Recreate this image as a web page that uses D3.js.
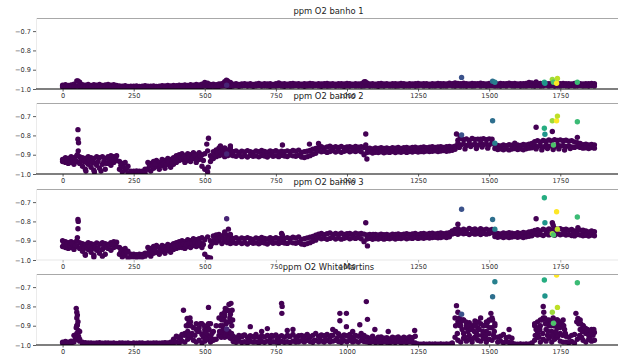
<!DOCTYPE html>
<html>
<head>
<meta charset="utf-8">
<script src="https://cdn.jsdelivr.net/npm/d3@7"></script>
<style>
  body { margin: 0; background: #fff; }
  svg { display: block; }
  text { font-family: "DejaVu Sans", sans-serif; }
</style>
</head>
<body>
<svg id="chart" width="618" height="354"></svg>
<script>
// Sample spacing of the band arrays (index units)
const STEP = 10;

const titles = ['ppm O2 banho 1', 'ppm O2 banho 2', 'ppm O2 banho 3', 'ppm O2 WhiteMartins'];
const xTicks = [0, 250, 500, 750, 1000, 1250, 1500, 1750];
const yTicks = [-1.0, -0.9, -0.8, -0.7];

// Coloured points: index and colour value (shared by all four panels)
const hlX = [577, 1403, 1512, 1520, 1694, 1696, 1722, 1726, 1737, 1740, 1810];
const hlC = [0.1, 0.25, 0.36, 0.43, 0.62, 0.52, 0.85, 0.72, 1.0, 0.9, 0.68];

// ---- banho 1 ----
const b1Hi = [-0.98,-0.978,-0.982,-0.979,-0.975,-0.958,-0.965,
  -0.978,-0.98,-0.976,-0.981,-0.978,-0.98,-0.977,-0.982,-0.979,-0.976,-0.98,-0.978,-0.981,
  -0.984,-0.986,-0.983,-0.987,-0.985,-0.986,-0.984,-0.987,-0.985,-0.983,-0.986,-0.985,-0.984,-0.987,-0.985,-0.983,-0.984,-0.982,-0.984,-0.981,-0.983,-0.98,-0.982,-0.979,-0.981,-0.978,
  -0.98,-0.977,-0.979,-0.975,-0.966,-0.97,-0.977,-0.975,-0.978,-0.974,-0.972,-0.962,-0.958,-0.966,
  -0.975,-0.973,-0.976,-0.974,-0.972,-0.975,-0.973,-0.976,-0.974,-0.971,-0.975,-0.973,-0.974,-0.972,-0.976,-0.973,-0.968,-0.974,-0.972,-0.975,-0.973,-0.971,-0.974,-0.972,-0.975,-0.973,-0.974,-0.971,-0.973,-0.975,-0.972,-0.974,-0.973,-0.971,-0.974,-0.972,-0.975,-0.973,-0.972,-0.974,-0.971,-0.973,-0.975,-0.972,-0.974,-0.972,
  -0.963,-0.968,
  -0.974,-0.972,-0.975,-0.973,-0.971,-0.974,-0.972,-0.975,-0.973,-0.972,-0.974,-0.971,-0.973,-0.975,-0.972,-0.974,-0.973,-0.971,-0.974,-0.972,
  -0.973,-0.975,-0.972,-0.974,-0.971,-0.973,-0.972,-0.974,-0.97,-0.972,-0.968,-0.971,-0.973,-0.97,-0.972,-0.974,-0.971,-0.973,-0.972,-0.97,
  -0.972,-0.974,-0.971,-0.973,-0.972,-0.974,-0.971,-0.973,-0.972,-0.97,-0.973,-0.971,-0.974,-0.972,-0.973,-0.971,-0.966,-0.968,-0.972,-0.973,
  -0.971,-0.974,-0.972,-0.973,-0.971,-0.972,-0.974,-0.972,-0.971,-0.973,-0.972,-0.974,-0.971,-0.973,-0.972,-0.974,-0.972,-0.973,-0.971,-0.973];
const b1Lo = [-0.99,-0.992,-0.988,-0.991,-0.989,-0.986,-0.988,-0.991,-0.99,-0.992,-0.989,-0.991,-0.99,-0.988,-0.992,-0.99,-0.991,-0.989,-0.99,-0.992,
  -0.994,-0.995,-0.993,-0.996,-0.994,-0.995,-0.993,-0.996,-0.995,-0.994,-0.996,-0.995,-0.993,-0.995,-0.994,-0.993,-0.994,-0.992,-0.993,-0.991,-0.992,-0.99,-0.991,-0.989,-0.99,-0.988,
  -0.989,-0.987,-0.99,-0.988,-0.985,-0.987,-0.988,-0.986,-0.989,-0.987,-0.985,-0.984,-0.986,-0.988,
  -0.985,-0.983,-0.986,-0.984,-0.982,-0.985,-0.983,-0.986,-0.984,-0.982,
  -0.985,-0.983,-0.984,-0.986,-0.983,-0.985,-0.982,-0.984,-0.986,-0.983,
  -0.985,-0.984,-0.982,-0.985,-0.983,-0.986,-0.984,-0.983,-0.985,-0.982,
  -0.984,-0.986,-0.983,-0.985,-0.984,-0.982,-0.985,-0.983,-0.984,-0.986,
  -0.983,-0.985,-0.982,-0.984,-0.983,-0.985,-0.984,-0.982,-0.985,-0.983,
  -0.984,-0.986,-0.983,-0.985,-0.982,-0.984,-0.983,-0.985,-0.984,-0.982,
  -0.985,-0.983,-0.984,-0.982,-0.985,-0.983,-0.981,-0.984,-0.982,-0.985,
  -0.983,-0.984,-0.982,-0.985,-0.983,-0.984,-0.981,-0.983,-0.985,-0.982,
  -0.984,-0.983,-0.985,-0.982,-0.984,-0.983,-0.981,-0.984,-0.982,-0.985,
  -0.983,-0.982,-0.984,-0.983,-0.985,-0.982,-0.984,-0.981,-0.983,-0.984,
  -0.982,-0.985,-0.983,-0.984,-0.982,-0.983,-0.985,-0.982,-0.984,-0.983,
  -0.981,-0.984,-0.982,-0.985,-0.983,-0.984,-0.982,-0.983,-0.985,-0.982,
  -0.984,-0.983,-0.982,-0.984,-0.983,-0.985,-0.982,-0.984];
const b1Extra = [[54,-0.958],[576,-0.955],[1064,-0.962],[1665,-0.963]];
const b1Hl = [-0.98,-0.94,-0.96,-0.965,-0.965,-0.97,-0.95,-0.965,-0.97,-0.945,-0.965];

// ---- banho 2 ----
const b2Hi = [-0.925,-0.915,-0.92,-0.91,-0.915,-0.905,-0.91,-0.915,-0.92,-0.91,-0.915,-0.92,-0.91,-0.915,-0.91,-0.92,-0.91,-0.905,-0.91,-0.905,
  -0.935,-0.945,-0.94,-0.96,-0.985,-0.985,-0.984,-0.986,-0.985,-0.975,-0.94,-0.945,-0.935,-0.93,-0.94,-0.925,-0.93,-0.92,-0.925,-0.915,
  -0.905,-0.9,-0.895,-0.905,-0.895,-0.9,-0.89,-0.9,-0.89,-0.9,-0.895,-0.88,-0.905,-0.885,-0.875,-0.865,-0.87,-0.865,-0.875,-0.865,
  -0.885,-0.88,-0.888,-0.882,-0.886,-0.879,-0.884,-0.888,-0.881,-0.885,-0.878,-0.883,-0.887,-0.88,-0.884,-0.879,-0.886,-0.882,-0.885,-0.88,-0.884,-0.878,-0.882,-0.876,
  -0.888,-0.885,-0.882,-0.878,-0.872,-0.868,
  -0.862,-0.858,-0.865,-0.86,-0.856,-0.863,-0.859,-0.862,-0.857,-0.864,-0.86,-0.858,-0.863,-0.857,-0.861,-0.859,-0.862,
  -0.868,-0.866,-0.87,-0.865,-0.868,-0.864,-0.867,-0.865,-0.869,-0.864,-0.866,-0.863,-0.867,-0.864,-0.862,-0.866,-0.863,-0.861,-0.865,-0.862,-0.86,-0.864,-0.861,-0.859,-0.863,-0.86,-0.858,-0.862,-0.859,-0.857,-0.86,-0.856,
  -0.825,-0.815,-0.822,-0.818,-0.826,-0.816,-0.821,-0.819,-0.824,-0.817,-0.822,-0.818,-0.82,
  -0.848,-0.852,-0.855,-0.85,-0.853,-0.848,-0.851,-0.854,-0.849,-0.852,-0.847,-0.85,-0.845,-0.842,
  -0.832,-0.828,-0.834,-0.826,-0.83,-0.824,-0.829,-0.822,-0.826,-0.823,-0.828,-0.825,-0.83,-0.827,-0.834,
  -0.838,-0.842,-0.848,-0.845,-0.85,-0.847,-0.849];
const b2Lo = [-0.935,-0.94,-0.945,-0.94,-0.95,-0.935,-0.945,-0.96,-0.975,-0.95,-0.965,-0.98,-0.955,-0.97,-0.95,-0.975,-0.945,-0.955,-0.94,-0.93,
  -0.975,-0.99,-0.98,-0.995,-0.998,-0.998,-0.997,-0.998,-0.998,-0.995,-0.975,-0.985,-0.97,-0.96,-0.975,-0.955,-0.97,-0.95,-0.965,-0.95,
  -0.94,-0.93,-0.925,-0.94,-0.93,-0.935,-0.92,-0.94,-0.925,-0.96,-0.975,-0.99,-0.935,-0.92,-0.91,-0.905,-0.9,-0.91,-0.905,-0.9,
  -0.905,-0.908,-0.902,-0.91,-0.905,-0.912,-0.903,-0.908,-0.906,-0.911,-0.904,-0.907,-0.912,-0.902,-0.908,-0.905,-0.91,-0.903,-0.907,-0.909,-0.902,-0.906,-0.908,-0.903,-0.912,-0.915,-0.91,-0.905,-0.898,-0.893,
  -0.88,-0.885,-0.882,-0.888,-0.883,-0.879,-0.886,-0.881,-0.887,-0.882,-0.878,-0.885,-0.88,-0.883,-0.879,-0.885,-0.9,
  -0.889,-0.886,-0.891,-0.887,-0.889,-0.885,-0.89,-0.886,-0.888,-0.884,-0.889,-0.885,-0.887,-0.883,-0.888,-0.884,-0.886,-0.882,-0.886,-0.883,-0.885,-0.881,-0.884,-0.882,-0.88,-0.883,-0.881,-0.878,-0.882,-0.88,-0.877,-0.872,
  -0.842,-0.85,-0.845,-0.852,-0.844,-0.849,-0.846,-0.851,-0.843,-0.848,-0.845,-0.85,-0.84,
  -0.868,-0.873,-0.87,-0.874,-0.869,-0.875,-0.871,-0.868,-0.873,-0.87,-0.874,-0.869,-0.866,-0.864,
  -0.852,-0.858,-0.854,-0.86,-0.851,-0.856,-0.853,-0.859,-0.85,-0.855,-0.852,-0.857,-0.854,-0.86,-0.862,
  -0.858,-0.862,-0.866,-0.864,-0.868,-0.863,-0.866];
const b2Extra = [[54,-0.77],[54,-0.82],[56,-0.838],[55,-0.88],[52,-0.9],
  [82,-0.985],[112,-0.99],[135,-0.985],[507,-0.845],[513,-0.815],[512,-0.965],
  [555,-0.855],[590,-0.855],[562,-0.88],[773,-0.85],[900,-0.842],[868,-0.845],
  [1066,-0.793],[1066,-0.85],[1070,-0.922],[1385,-0.793],[1398,-0.805],
  [1665,-0.758],[1722,-0.78],[1810,-0.81],[1470,-0.82],[1590,-0.84],
  [5,-0.93],[15,-0.93],[25,-0.935],[35,-0.925],[45,-0.93],[65,-0.93],[75,-0.935],[85,-0.94],[95,-0.93],[105,-0.94],
  [115,-0.945],[125,-0.935],[145,-0.935],[155,-0.945],[165,-0.93],[175,-0.93],[205,-0.955],[215,-0.965],[225,-0.97],
  [305,-0.96],[315,-0.96],[325,-0.95],[345,-0.955],[355,-0.945],[365,-0.95],[375,-0.935],[385,-0.945],[395,-0.93],
  [405,-0.92],[415,-0.915],[425,-0.91],[435,-0.92],[445,-0.912],[455,-0.918],[465,-0.905],[475,-0.92],[485,-0.908],
  [495,-0.93],[525,-0.92],[535,-0.9],[545,-0.89],[555,-0.885],[565,-0.885],[575,-0.888],[585,-0.89],[595,-0.885],
  [1395,-0.862],[1415,-0.87],[1435,-0.858],[1455,-0.868],[1475,-0.86],[1495,-0.866],
  [1665,-0.87],[1685,-0.875],[1705,-0.868],[1725,-0.873],[1745,-0.87],[1765,-0.876],[1785,-0.868]];
const b2Hl = [-0.896,-0.798,-0.724,-0.84,-0.763,-0.794,-0.724,-0.85,-0.724,-0.70,-0.729];

// ---- banho 3 ----
const b3Hi = [-0.9,-0.905,-0.91,-0.905,-0.91,-0.9,-0.91,
  -0.915,-0.92,-0.91,-0.915,-0.92,-0.912,-0.918,-0.91,-0.915,-0.92,-0.91,-0.905,-0.908,
  -0.935,-0.945,-0.94,-0.955,-0.97,-0.97,-0.972,-0.97,-0.971,-0.965,
  -0.935,-0.94,-0.93,-0.925,-0.935,-0.925,-0.93,-0.92,-0.925,-0.915,-0.91,-0.905,-0.9,-0.905,
  -0.895,-0.9,-0.89,-0.895,-0.89,-0.885,-0.895,-0.88,-0.9,
  -0.875,-0.87,-0.868,-0.875,-0.865,-0.872,-0.878,
  -0.888,-0.885,-0.892,-0.886,-0.89,-0.884,-0.889,-0.893,-0.886,-0.89,-0.883,-0.888,-0.891,-0.885,-0.889,-0.884,-0.89,-0.887,-0.889,-0.884,-0.888,-0.882,-0.886,-0.88,
  -0.893,-0.89,-0.886,-0.882,-0.878,-0.872,
  -0.866,-0.862,-0.869,-0.864,-0.86,-0.867,-0.863,-0.866,-0.861,-0.868,-0.864,-0.862,-0.867,-0.861,-0.865,-0.863,-0.866,
  -0.87,-0.868,-0.872,-0.867,-0.87,-0.866,-0.869,-0.867,-0.871,-0.866,-0.868,-0.865,-0.869,-0.866,-0.864,-0.868,-0.865,-0.863,-0.867,-0.864,-0.862,-0.866,-0.863,-0.861,-0.865,-0.862,-0.86,-0.864,-0.861,-0.859,
  -0.85,-0.842,-0.838,-0.845,-0.84,-0.846,-0.837,-0.843,-0.839,-0.845,-0.838,-0.844,-0.84,-0.846,-0.842,
  -0.858,-0.862,-0.865,-0.86,-0.863,-0.858,-0.861,-0.864,-0.859,-0.862,-0.857,-0.86,-0.855,-0.852,
  -0.847,-0.843,-0.849,-0.841,-0.845,-0.839,-0.844,-0.837,-0.841,-0.838,-0.843,-0.84,-0.846,-0.842,-0.85,
  -0.848,-0.845,-0.852,-0.849,-0.854,-0.85,-0.853];
const b3Lo = [-0.93,-0.935,-0.94,-0.935,-0.945,-0.93,-0.94,-0.955,-0.97,-0.945,-0.96,-0.975,-0.95,-0.965,-0.945,-0.97,-0.94,-0.95,-0.935,-0.93,
  -0.97,-0.985,-0.975,-0.99,-0.985,-0.985,-0.987,-0.985,-0.986,-0.98,
  -0.97,-0.98,-0.965,-0.96,-0.97,-0.955,-0.965,-0.95,-0.96,-0.945,-0.94,-0.935,-0.935,-0.94,
  -0.93,-0.935,-0.925,-0.93,-0.925,-0.935,-0.97,-0.985,-0.93,
  -0.905,-0.91,-0.9,-0.915,-0.905,-0.91,-0.915,
  -0.91,-0.913,-0.907,-0.915,-0.91,-0.917,-0.908,-0.913,-0.911,-0.916,-0.909,-0.912,-0.917,-0.907,-0.913,-0.91,-0.915,-0.908,-0.912,-0.914,-0.907,-0.911,-0.913,-0.908,-0.917,-0.92,-0.915,-0.91,-0.903,-0.897,
  -0.885,-0.89,-0.887,-0.893,-0.888,-0.884,-0.891,-0.886,-0.892,-0.887,-0.883,-0.89,-0.885,-0.888,-0.884,-0.89,-0.905,
  -0.891,-0.888,-0.893,-0.889,-0.891,-0.887,-0.892,-0.888,-0.89,-0.886,-0.891,-0.887,-0.889,-0.885,-0.89,-0.886,-0.888,-0.884,-0.888,-0.885,-0.887,-0.883,-0.886,-0.884,-0.882,-0.885,-0.883,-0.88,-0.884,-0.88,
  -0.865,-0.862,-0.867,-0.86,-0.864,-0.862,-0.868,-0.861,-0.866,-0.863,-0.868,-0.862,-0.866,-0.863,-0.858,
  -0.878,-0.882,-0.879,-0.884,-0.88,-0.883,-0.881,-0.878,-0.882,-0.879,-0.883,-0.88,-0.877,-0.874,
  -0.866,-0.871,-0.868,-0.873,-0.865,-0.87,-0.867,-0.872,-0.864,-0.869,-0.866,-0.871,-0.868,-0.873,-0.875,
  -0.868,-0.871,-0.874,-0.872,-0.876,-0.871,-0.874];
const b3Extra = [[54,-0.79],[55,-0.80],[54,-0.838],[52,-0.884],
  [80,-0.975],[110,-0.985],[140,-0.98],[512,-0.99],[520,-0.99],
  [583,-0.84],[590,-0.867],[570,-0.855],[770,-0.862],[773,-0.872],
  [1066,-0.807],[1092,-0.867],[1072,-0.927],[1390,-0.815],
  [1665,-0.786],[1722,-0.807],[1725,-0.82],[1812,-0.832],[1830,-0.845],
  [5,-0.915],[15,-0.92],[25,-0.925],[35,-0.918],[45,-0.925],[65,-0.935],[75,-0.94],[85,-0.935],[95,-0.93],[105,-0.94],
  [115,-0.935],[125,-0.94],[145,-0.93],[155,-0.935],[165,-0.925],[175,-0.92],[205,-0.955],[215,-0.965],[225,-0.96],
  [305,-0.95],[315,-0.96],[325,-0.945],[345,-0.95],[355,-0.94],[365,-0.945],[375,-0.935],[385,-0.94],[395,-0.93],
  [405,-0.925],[415,-0.92],[425,-0.915],[435,-0.92],[445,-0.912],[455,-0.915],[465,-0.908],[475,-0.915],[485,-0.91],
  [495,-0.92],[525,-0.915],[535,-0.89],[545,-0.89],[555,-0.885],[565,-0.89],[575,-0.888],[585,-0.893],[595,-0.895],
  [1385,-0.852],[1415,-0.858],[1445,-0.855],[1475,-0.86],[1505,-0.852],
  [1675,-0.858],[1705,-0.862],[1735,-0.86],[1765,-0.858],[1795,-0.862]];
const b3Hl = [-0.786,-0.737,-0.79,-0.84,-0.677,-0.807,-0.864,-0.87,-0.75,-0.84,-0.777];

// ---- WhiteMartins ----
const wmHi = [-0.985,-0.982,-0.986,-0.98,-0.95,-0.9,-0.93,
  -0.985,-0.988,-0.99,-0.989,-0.991,-0.99,-0.988,-0.991,-0.99,-0.989,-0.991,-0.99,-0.992,-0.99,-0.989,-0.991,-0.99,-0.992,-0.99,-0.991,-0.989,-0.99,-0.992,-0.99,-0.991,-0.99,-0.989,-0.991,-0.99,-0.988,-0.99,-0.985,
  -0.97,-0.955,-0.96,-0.95,-0.94,-0.9,-0.88,-0.91,
  -0.92,-0.93,-0.89,-0.935,-0.91,-0.89,-0.93,
  -0.9,-0.86,-0.84,-0.85,-0.82,-0.88,
  -0.955,-0.962,-0.95,-0.958,-0.948,-0.96,-0.952,-0.957,-0.945,-0.96,-0.953,-0.958,-0.95,-0.962,-0.955,-0.948,-0.958,-0.952,-0.96,-0.95,-0.956,-0.945,-0.958,-0.952,
  -0.95,-0.955,-0.945,-0.958,-0.95,-0.94,-0.955,-0.948,-0.952,-0.945,-0.958,-0.95,-0.93,-0.942,-0.955,-0.948,-0.952,-0.945,-0.958,-0.95,-0.955,-0.94,-0.95,
  -0.96,-0.965,-0.955,-0.968,-0.96,-0.958,-0.965,-0.962,-0.968,-0.96,-0.964,-0.958,-0.966,-0.96,-0.965,-0.958,-0.962,-0.955,
  -0.995,-0.996,-0.995,-0.996,-0.995,-0.996,-0.995,-0.996,-0.995,-0.996,-0.995,-0.996,-0.99,
  -0.86,-0.88,-0.9,-0.87,-0.91,-0.885,-0.9,-0.875,-0.91,-0.89,-0.9,-0.88,-0.87,-0.86,-0.9,
  -0.96,-0.955,-0.945,-0.962,-0.958,-0.965,
  -0.995,-0.996,-0.995,-0.996,-0.995,-0.996,-0.99,
  -0.9,-0.88,-0.87,-0.86,-0.89,-0.87,-0.88,-0.9,-0.87,-0.88,-0.9,
  -0.955,-0.96,-0.95,-0.945,
  -0.88,-0.87,-0.9,-0.915,-0.93,-0.92,-0.935];
const wmLo = [-0.99,-0.993,-0.99,-0.992,-0.985,-0.97,-0.98,
  -0.996,-0.997,-0.998,-0.997,-0.998,-0.997,-0.998,-0.997,-0.998,-0.997,-0.998,-0.997,-0.998,-0.997,-0.998,-0.997,-0.998,-0.997,-0.998,-0.997,-0.998,-0.997,-0.998,-0.997,-0.998,-0.997,-0.998,-0.997,-0.998,-0.997,-0.996,-0.995,
  -0.99,-0.985,-0.99,-0.98,-0.985,-0.97,-0.96,-0.975,
  -0.985,-0.975,-0.99,-0.98,-0.97,-0.985,-0.975,
  -0.97,-0.95,-0.93,-0.96,-0.94,-0.965,
  -0.982,-0.986,-0.98,-0.987,-0.983,-0.988,-0.981,-0.985,-0.984,-0.988,-0.982,-0.986,-0.98,-0.987,-0.983,-0.985,-0.988,-0.981,-0.986,-0.983,-0.987,-0.98,-0.985,-0.983,
  -0.978,-0.984,-0.975,-0.982,-0.986,-0.976,-0.983,-0.979,-0.985,-0.977,-0.983,-0.98,-0.975,-0.982,-0.986,-0.978,-0.983,-0.976,-0.984,-0.979,-0.985,-0.977,-0.982,
  -0.984,-0.988,-0.982,-0.987,-0.985,-0.989,-0.983,-0.986,-0.988,-0.984,-0.987,-0.982,-0.988,-0.985,-0.987,-0.983,-0.986,-0.99,
  -0.998,-0.998,-0.997,-0.998,-0.998,-0.997,-0.998,-0.998,-0.997,-0.998,-0.998,-0.997,-0.996,
  -0.96,-0.975,-0.985,-0.965,-0.98,-0.97,-0.985,-0.96,-0.975,-0.98,-0.965,-0.985,-0.97,-0.975,-0.96,
  -0.985,-0.98,-0.988,-0.983,-0.987,-0.99,
  -0.998,-0.998,-0.997,-0.998,-0.998,-0.997,-0.996,
  -0.975,-0.96,-0.985,-0.97,-0.98,-0.965,-0.985,-0.97,-0.96,-0.98,-0.985,
  -0.985,-0.988,-0.982,-0.99,
  -0.97,-0.96,-0.975,-0.985,-0.97,-0.98,-0.975];
const wmExtra = [
  [48,-0.81],[50,-0.83],[52,-0.845],[50,-0.86],[54,-0.879],[52,-0.896],[48,-0.91],[55,-0.925],[50,-0.94],[56,-0.955],[45,-0.965],[60,-0.97],
  [425,-0.82],[438,-0.862],[444,-0.885],[450,-0.9],[440,-0.93],[430,-0.95],[455,-0.94],
  [405,-0.96],[415,-0.97],[420,-0.945],[435,-0.9],[445,-0.95],[448,-0.86],
  [470,-0.89],[480,-0.91],[490,-0.945],[500,-0.92],[510,-0.95],[513,-0.805],[513,-0.89],[520,-0.96],[495,-0.96],[505,-0.935],
  [465,-0.95],[475,-0.93],[485,-0.89],[498,-0.9],[505,-0.97],[515,-0.92],[525,-0.94],[530,-0.97],
  [555,-0.9],[560,-0.87],[565,-0.85],[565,-0.92],[570,-0.83],[572,-0.81],[575,-0.89],[580,-0.82],[585,-0.79],[588,-0.86],[592,-0.784],[595,-0.9],[578,-0.95],[560,-0.94],[585,-0.93],[596,-0.82],
  [552,-0.93],[558,-0.96],[563,-0.9],[568,-0.87],[573,-0.95],[576,-0.93],[582,-0.88],[587,-0.96],[590,-0.84],[594,-0.94],[598,-0.87],
  [660,-0.905],[700,-0.93],[720,-0.915],[770,-0.784],[772,-0.8],[771,-0.836],[790,-0.925],[810,-0.92],
  [615,-0.97],[635,-0.95],[655,-0.97],[675,-0.96],[695,-0.975],[735,-0.95],[755,-0.97],[795,-0.955],[825,-0.97],
  [845,-0.97],[865,-0.955],[885,-0.975],[905,-0.96],[925,-0.97],[945,-0.95],[965,-0.965],[985,-0.97],[1005,-0.955],
  [1025,-0.975],[1055,-0.96],[1085,-0.975],[1115,-0.97],[1135,-0.98],[1165,-0.975],[1195,-0.97],[1225,-0.98],
  [975,-0.836],[998,-0.836],[975,-0.874],[998,-0.905],[1068,-0.775],[1072,-0.867],[1045,-0.895],[950,-0.92],[1020,-0.93],
  [1098,-0.92],[1145,-0.93],[1238,-0.925],
  [1385,-0.796],[1390,-0.83],[1395,-0.86],[1400,-0.88],[1405,-0.92],[1410,-0.94],[1420,-0.9],[1425,-0.93],[1430,-0.95],[1440,-0.91],[1450,-0.89],[1455,-0.94],[1465,-0.92],[1470,-0.86],[1475,-0.95],[1480,-0.9],[1490,-0.93],[1495,-0.88],[1500,-0.94],[1506,-0.836],[1508,-0.87],[1510,-0.91],[1515,-0.95],[1520,-0.89],[1445,-0.965],[1485,-0.965],
  [1382,-0.9],[1388,-0.94],[1398,-0.9],[1408,-0.87],[1415,-0.96],[1418,-0.88],[1428,-0.9],[1435,-0.92],[1448,-0.93],[1452,-0.9],[1460,-0.95],[1462,-0.88],[1478,-0.93],[1488,-0.95],[1492,-0.9],[1502,-0.91],[1512,-0.87],[1518,-0.93],
  [1570,-0.92],
  [1660,-0.89],[1665,-0.92],[1670,-0.94],[1680,-0.9],[1685,-0.87],[1690,-0.8],[1692,-0.83],[1695,-0.86],[1700,-0.92],[1705,-0.95],[1710,-0.9],[1715,-0.88],[1720,-0.93],[1725,-0.86],[1730,-0.95],[1740,-0.91],[1745,-0.89],[1750,-0.94],[1760,-0.87],[1765,-0.92],[1675,-0.96],
  [1662,-0.95],[1668,-0.91],[1678,-0.92],[1688,-0.94],[1698,-0.89],[1702,-0.87],[1708,-0.93],[1712,-0.96],[1718,-0.9],[1722,-0.95],[1728,-0.9],[1735,-0.93],[1738,-0.87],[1742,-0.95],[1748,-0.91],[1755,-0.89],[1758,-0.95],[1762,-0.9],[1768,-0.94],
  [1805,-0.836],[1812,-0.862],[1815,-0.89],[1820,-0.92],[1830,-0.9],[1840,-0.94],[1850,-0.95],[1860,-0.93],[1825,-0.96],
  [1808,-0.88],[1818,-0.95],[1822,-0.89],[1828,-0.93],[1835,-0.91],[1845,-0.92],[1855,-0.97],[1865,-0.95],[1868,-0.92]];
const wmHl = [-0.917,-0.84,-0.75,-0.672,-0.663,-0.746,-0.83,-0.887,-0.637,-0.805,-0.677];

const panels = [
  { hi: b1Hi, lo: b1Lo, extra: b1Extra, hl: b1Hl },
  { hi: b2Hi, lo: b2Lo, extra: b2Extra, hl: b2Hl },
  { hi: b3Hi, lo: b3Lo, extra: b3Extra, hl: b3Hl },
  { hi: wmHi, lo: wmLo, extra: wmExtra, hl: wmHl }
];

// Layout
const LEFT = 36, RIGHT = 621;
const TOPS = [18, 103, 189, 274];
const PANEL_H = 71;
const BOTTOM_SPINE = ['#000', '#000', '#e8e8e8', '#000'];
const R = 2.7;
const TICK_FONT = '6.6px';
const TITLE_FONT = '8.4px';

const svg = d3.select('#chart');
const x = d3.scaleLinear().domain([-93.5, 1963.5]).range([LEFT, RIGHT]);
const color = d3.scaleSequential(d3.interpolateViridis).domain([0, 1]);
const yFmt = d3.format('.1f');

panels.forEach((p, k) => {
  const top = TOPS[k];
  const bottom = top + PANEL_H;
  const y = d3.scaleLinear().domain([-1.0, -0.632]).range([bottom, top]);

  svg.append('clipPath').attr('id', `clip${k}`)
    .append('rect')
    .attr('x', LEFT).attr('y', top)
    .attr('width', RIGHT - LEFT).attr('height', PANEL_H);

  const g = svg.append('g').attr('class', 'panel');
  const marks = g.append('g').attr('clip-path', `url(#clip${k})`);

  const pts = [];
  p.hi.forEach((v, i) => pts.push([i * STEP, v]));
  p.lo.forEach((v, i) => pts.push([i * STEP, v]));
  p.extra.forEach(d => pts.push(d));

  marks.selectAll('circle.main')
    .data(pts)
    .join('circle')
    .attr('class', 'main')
    .attr('cx', d => x(d[0]))
    .attr('cy', d => y(d[1]))
    .attr('r', R)
    .attr('fill', color(0));

  marks.selectAll('circle.hl')
    .data(hlX.map((xv, i) => ({ x: xv, y: p.hl[i], c: hlC[i] })))
    .join('circle')
    .attr('class', 'hl')
    .attr('cx', d => x(d.x))
    .attr('cy', d => y(d.y))
    .attr('r', R)
    .attr('fill', d => color(d.c));

  // Spines
  g.append('line')
    .attr('x1', LEFT).attr('x2', RIGHT).attr('y1', top + 0.5).attr('y2', top + 0.5)
    .attr('stroke', '#a8a8a8').attr('stroke-width', 1);
  g.append('line')
    .attr('x1', LEFT + 0.5).attr('x2', LEFT + 0.5).attr('y1', top).attr('y2', bottom)
    .attr('stroke', '#ebebeb').attr('stroke-width', 1);
  g.append('line')
    .attr('x1', LEFT).attr('x2', RIGHT).attr('y1', bottom).attr('y2', bottom)
    .attr('stroke', BOTTOM_SPINE[k]).attr('stroke-width', 1.2);

  // Axes
  const xAxis = g.append('g')
    .attr('transform', `translate(0,${bottom})`)
    .call(d3.axisBottom(x).tickValues(xTicks).tickSize(2.5).tickPadding(2).tickFormat(d3.format('d')));
  const yAxis = g.append('g')
    .attr('transform', `translate(${LEFT},0)`)
    .call(d3.axisLeft(y).tickValues(yTicks).tickSize(3).tickPadding(2).tickFormat(yFmt));

  [xAxis, yAxis].forEach(a => {
    a.select('.domain').remove();
    a.selectAll('line').attr('stroke', k === 2 ? '#999' : '#333').attr('stroke-width', 0.8);
    a.selectAll('text')
      .attr('fill', '#333')
      .style('font-size', TICK_FONT)
      .style('font-family', '"DejaVu Sans", sans-serif');
  });
  yAxis.selectAll('line').attr('stroke', '#333');
});

// Titles drawn last so they sit over the tick labels above them
titles.forEach((t, k) => {
  svg.append('text')
    .attr('x', (LEFT + RIGHT) / 2)
    .attr('y', TOPS[k] - 4)
    .attr('text-anchor', 'middle')
    .attr('fill', '#222')
    .style('font-size', TITLE_FONT)
    .text(t);
});
</script>
</body>
</html>
